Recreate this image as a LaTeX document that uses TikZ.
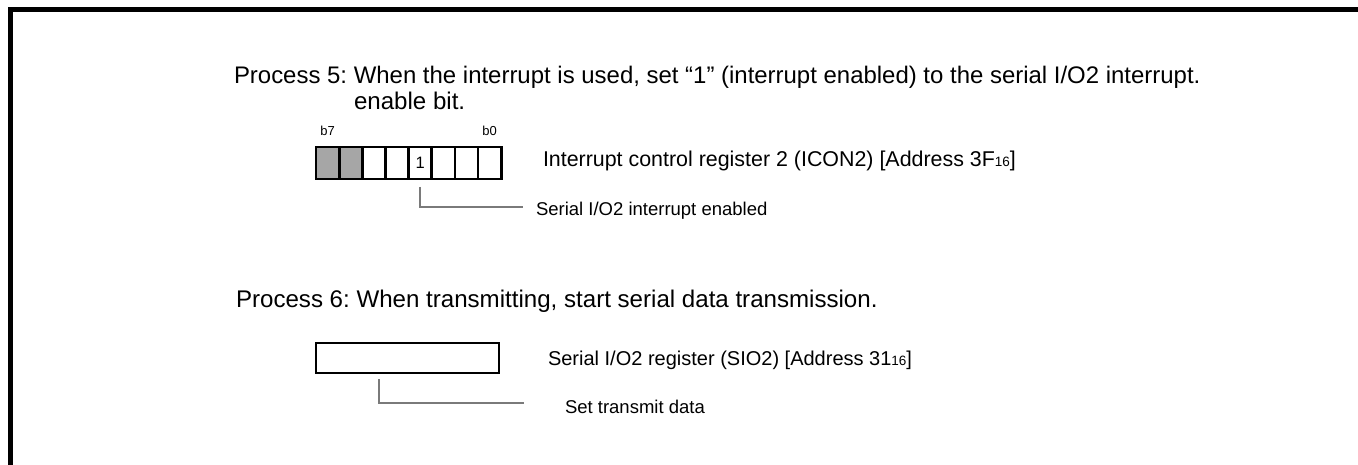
\documentclass[tikz,border=0pt]{standalone}
\usepackage{fontspec}
\setmainfont{Liberation Sans}
\usepackage{xcolor}
\usetikzlibrary{positioning}
\definecolor{shade}{HTML}{A6A6A6}
\definecolor{leadgray}{HTML}{7A7A7A}
\newcommand{\hexsub}[1]{{\fontsize{13.5}{14}\selectfont #1}}
\frenchspacing

\begin{document}
\begin{tikzpicture}[x=1pt, y=-1pt,
  every node/.style={inner sep=0pt, outer sep=0pt},
  steptext/.style={anchor=base west, font=\fontsize{24.1}{28}\selectfont},
  reglabel/.style={anchor=base west, font=\fontsize{20}{24}\selectfont},
  leadlabel/.style={anchor=base west, font=\fontsize{18.5}{22}\selectfont},
  bitlbl/.style={anchor=base, font=\fontsize{13}{15}\selectfont},
  regcell/.style={draw, line width=2.8pt, anchor=north west,
    minimum width=23.15pt, minimum height=32pt, font=\fontsize{16.5}{18}\selectfont},
  leader/.style={draw=leadgray, line width=1.4pt}]

  \useasboundingbox (0,0) rectangle (1358,465);

  % -- frame: only the top and left edges show ------------------------------
  \draw[line width=5pt] (1358,9.5) -- (10.5,9.5) -- (10.5,465);

  % -- process 5 -------------------------------------------------------------
  \node[steptext, font=\fontsize{23.95}{28}\selectfont] (p5a) at (234,84) {Process 5: When the interrupt is used, set “1” (interrupt enabled) to the serial I/O2 interrupt.};
  \node[steptext] (p5b) at (354,110) {enable bit.};

  % the eight bits of ICON2, b7 on the left
  \foreach \i/\f/\t in {0/shade/,1/shade/,2/white/,3/white/,4/white/1,5/white/,6/white/,7/white/}
    \node[regcell, fill=\f] (cell\i) at ({316+23.15*\i},147) {\t};
  \node[bitlbl] (b7) at ([yshift=11pt]cell0.north) {b7};
  \node[bitlbl] (b0) at ([yshift=11pt]cell7.north) {b0};

  \node[reglabel, font=\fontsize{21.4}{24}\selectfont] (icon) at (543,167) {Interrupt control register 2 (ICON2) [Address 3F\hexsub{16}]};

  \coordinate (tipA) at (523,207);
  \draw[leader] ([yshift=-8pt]cell4.south) |- (tipA);
  \node[leadlabel] (enab) at (536,216) {Serial I/O2 interrupt enabled};

  % -- process 6 -------------------------------------------------------------
  \node[steptext] (p6) at (236,308) {Process 6: When transmitting, start serial data transmission.};

  \node[draw, line width=2.8pt, anchor=north west, minimum width=183pt, minimum height=30pt] (sio) at (316,343) {};
  \node[reglabel] (siolbl) at (548,365) {Serial I/O2 register (SIO2) [Address 31\hexsub{16}]};

  \coordinate (tipB) at (524,403);
  \draw[leader] ([xshift=-28.5pt, yshift=-6pt]sio.south) |- (tipB);
  \node[leadlabel] (data) at (565,413) {Set transmit data};

\end{tikzpicture}
\end{document}
